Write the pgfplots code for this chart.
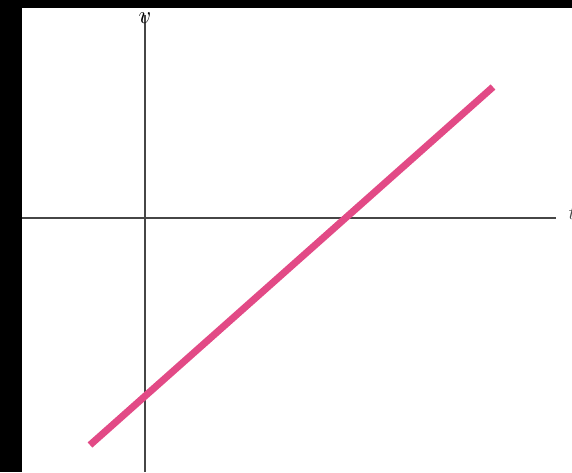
\documentclass[border=0pt]{standalone}
\usepackage{pgfplots}
\pgfplotsset{compat=1.18}
\definecolor{linepink}{RGB}{226,74,134}
\definecolor{axisgray}{RGB}{70,70,70}
\begin{document}
\begin{tikzpicture}
\clip (0,0) rectangle (572pt,472pt);
\begin{axis}[
  width=572pt, height=472pt,
  scale only axis,
  xmin=-145, xmax=427,
  ymin=-254, ymax=218,
  hide axis,
  clip=false
]
% frame strips of the scan
\addplot[fill=black, draw=none] coordinates {
  (-145,-254) (-123,-254) (-123,218) (-145,218)} --cycle;
\addplot[fill=black, draw=none] coordinates {
  (-145,210) (427,210) (427,218) (-145,218)} --cycle;
% axes
\addplot[axisgray, line width=1.4pt] coordinates {(0,-254) (0,203)};
\addplot[axisgray, line width=1.4pt] coordinates {(-123,0) (411,0)};
% velocity line
\addplot[linepink, line width=7pt, line cap=butt] coordinates {
  (-55,-227) (348,131)};
\node[font=\fontsize{30}{32}\selectfont] at (axis cs:0,200) {$v$};
\node[anchor=west, font=\fontsize{22}{24}\selectfont, text=axisgray] at (axis cs:420,5) {$t$};
\end{axis}
\end{tikzpicture}
\end{document}
